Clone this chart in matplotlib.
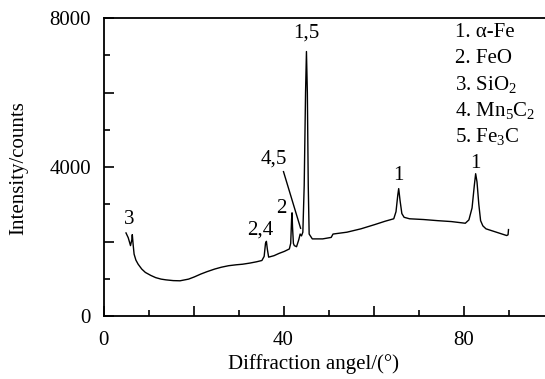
import matplotlib
matplotlib.use("Agg")
import matplotlib.pyplot as plt
from matplotlib.ticker import MultipleLocator, FuncFormatter

plt.rcParams['font.family'] = ['Liberation Serif', 'DejaVu Serif']
plt.rcParams['mathtext.fontset'] = 'custom'
plt.rcParams['mathtext.rm'] = 'Liberation Serif'
plt.rcParams['mathtext.it'] = 'Liberation Serif:italic'

angle = [5.0, 5.5, 6.0, 6.3, 6.4, 6.6, 6.8, 7.2, 7.7, 8.5, 9.3, 10.5, 11.6, 12.8, 13.9,
         15.5, 17.0, 18.9, 20.2, 21.6, 23.0, 24.7, 26.2, 27.8, 29.5, 30.9, 32.5, 34.0,
         35.2, 35.7, 36.0, 36.2, 36.4, 36.7, 37.9, 39.0, 40.2, 41.3, 41.6, 41.8, 41.9,
         42.0, 42.2, 42.4, 42.9, 43.4, 43.7, 44.0, 44.3, 44.6, 44.9, 45.1, 45.3, 45.5,
         45.7, 46.4, 48.7, 50.6, 51.0, 54.1, 57.2, 60.3, 62.6, 64.5, 65.0, 65.4, 65.6,
         65.9, 66.3, 66.8, 68.0, 71.1, 74.2, 77.3, 80.4, 81.2, 81.9, 82.4, 82.7, 83.0,
         83.4, 83.8, 84.3, 85.0, 87.3, 89.6, 89.9, 90.0]
intensity = [2230, 2100, 1890, 2050, 2185, 1900, 1660, 1500, 1390, 1260, 1170, 1090, 1030, 990, 970,
             950, 945, 990, 1050, 1125, 1190, 1260, 1310, 1350, 1375, 1390, 1420, 1455,
             1490, 1600, 1950, 2005, 1800, 1580, 1620, 1680, 1735, 1800, 1950, 2600, 2770,
             2400, 1950, 1890, 1860, 2050, 2200, 2150, 2250, 3500, 6000, 7100, 6000, 3500,
             2200, 2070, 2070, 2110, 2200, 2250, 2340, 2455, 2545, 2610, 2800, 3250, 3420,
             3100, 2750, 2650, 2610, 2590, 2560, 2535, 2490, 2580, 2900, 3500, 3820, 3600,
             3000, 2560, 2420, 2340, 2250, 2160, 2180, 2320]

peak_labels = ["3", "2,4", "2", "4,5", "1,5", "1", "1"]
peak_x = [5.8, 34.8, 39.6, 37.9, 45.1, 65.6, 82.7]
peak_y = [2600, 2310, 2875, 4225, 7600, 3775, 4090]

legend_lines = ["1. α-Fe", "2. FeO", "3. SiO$_2$", "4. Mn$_5$C$_2$", "5. Fe$_3$C"]
legend_y = [7600, 6925, 6205, 5530, 4810]

FS = 15

fig = plt.figure(figsize=(5.45, 3.79), dpi=100)
ax = fig.add_axes([103.5/545, 63/379, (545-103.5)/545, 298/379])
ax.plot(angle, intensity, color='black', lw=1.0)

ax.set_xlim(0, (545-103.5)/4.5)
ax.set_ylim(0, 8000)
ax.spines['right'].set_visible(False)
for s in ['left', 'bottom', 'top']:
    ax.spines[s].set_linewidth(1.3)

ax.xaxis.set_major_locator(MultipleLocator(20))
ax.xaxis.set_minor_locator(MultipleLocator(10))
ax.yaxis.set_major_locator(MultipleLocator(2000))
ax.yaxis.set_minor_locator(MultipleLocator(1000))
ax.xaxis.set_major_formatter(FuncFormatter(lambda v, p: f"{int(v)}" if int(round(v)) % 40 == 0 else ""))
ax.yaxis.set_major_formatter(FuncFormatter(lambda v, p: f"{int(v)}" if int(round(v)) % 4000 == 0 else ""))
ax.tick_params(which='major', direction='in', length=7, width=1.2, labelsize=FS)
ax.tick_params(which='minor', direction='in', length=4, width=1.2)
ax.tick_params(top=False, right=False, which='both')
ax.tick_params(axis='x', pad=11)
ax.tick_params(axis='y', pad=9)

for t, x, y in zip(peak_labels, peak_x, peak_y):
    ax.text(x, y, t, ha='center', va='center', fontsize=FS)
ax.plot([40.0, 43.8], [3875, 2355], color='black', lw=1.0)

for t, y in zip(legend_lines, legend_y):
    ax.text(78.1, y, t, ha='left', va='center', fontsize=FS)

fig.text(313/545, 1 - 364/379, "Diffraction angel/(°)", ha='center', va='center', fontsize=FS)
fig.text(19/545, 1 - 168/379, "Intensity/counts", ha='center', va='center', rotation=90, fontsize=FS)

fig.savefig("out.png", dpi=100)
